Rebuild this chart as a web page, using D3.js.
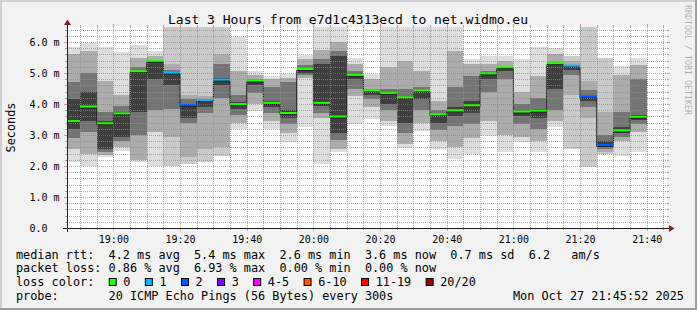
<!DOCTYPE html>
<html><head><meta charset="utf-8">
<script src="https://cdn.jsdelivr.net/npm/d3@7"></script>
<style>
html,body{margin:0;padding:0;background:#f2f2f2;}
svg{display:block;}
text{font-family:"DejaVu Sans Mono",monospace;}
</style></head><body>
<svg id="c" width="697" height="310"></svg>
<script>
// ---------------- data ----------------
const titleText = "Last 3 Hours from e7d1c4313ecd to net.widmo.eu";
const startTime = "2025-10-27T18:46:05";
const endTime   = "2025-10-27T21:46:05";
const firstSlotEnd = "2025-10-27T18:50:00";
const stepMinutes = 5;

// median RTT per 5-minute slot (ms)
const median = [3.40,3.87,3.33,3.65,5.01,5.35,4.97,3.92,4.08,4.74,3.95,4.71,3.99,3.66,5.08,3.99,3.55,4.89,4.39,4.31,4.17,4.39,3.62,3.75,3.91,4.94,5.14,3.71,3.74,5.27,5.19,4.19,2.63,3.10,3.54];
// lost pings per slot (of 20)
const loss   = [0,0,0,0,0,0,1,2,1,1,0,0,0,0,0,0,0,0,0,0,0,0,0,0,0,0,0,0,0,0,1,2,2,0,0];
// sorted ping ranks (ms): p1 = fastest ... p20 = slowest
const p1  = [2.12,2.01,2.28,2.49,2.12,2.01,2.01,2.06,2.12,2.33,3.19,3.78,3.20,2.76,3.25,2.06,2.44,3.35,3.52,3.30,2.58,3.14,2.55,2.22,2.39,2.98,2.44,2.76,2.44,3.25,2.55,1.96,2.39,2.33,2.44];
const p3  = [2.55,2.40,2.35,2.60,2.20,3.10,2.95,2.30,2.55,2.60,3.40,4.00,3.45,3.05,4.85,3.55,2.55,4.25,3.90,3.45,2.70,3.40,2.80,2.60,2.90,3.45,3.00,2.95,2.80,3.45,4.30,3.55,2.45,2.80,3.10];
const p6  = [2.90,3.10,2.45,2.80,3.00,3.80,3.85,3.40,3.70,4.20,3.65,4.35,3.70,3.35,4.95,3.70,2.85,4.50,4.15,3.80,3.05,3.80,3.15,3.30,3.35,4.40,4.80,3.35,3.20,3.80,4.95,3.90,2.55,2.95,3.35];
const p9  = [3.20,3.45,2.55,2.95,3.75,4.80,4.60,3.55,3.90,4.60,3.85,4.60,3.90,3.55,5.00,3.95,3.05,4.80,4.30,4.00,3.40,4.15,3.40,3.60,3.70,4.80,5.05,3.60,3.55,4.50,5.10,4.10,2.60,3.05,3.50];
const p12 = [4.16,4.38,3.45,3.75,5.05,5.38,5.00,3.98,4.10,4.85,4.05,4.74,4.10,3.80,5.12,5.30,5.55,4.93,4.42,4.35,4.25,4.45,3.66,3.90,4.10,4.97,5.16,3.80,3.85,5.30,5.21,4.25,2.80,3.25,3.65];
const p15 = [4.70,4.99,3.75,3.95,5.20,5.42,5.10,4.15,4.15,5.30,4.30,4.80,4.55,4.70,5.25,5.45,5.70,5.05,4.50,4.50,4.50,4.55,3.80,4.55,4.90,5.05,5.20,4.00,4.20,5.35,5.25,4.45,3.00,3.75,4.80];
const p18 = [5.60,5.72,4.75,4.30,5.50,5.55,5.30,4.30,4.25,5.60,5.05,4.92,4.80,4.85,5.45,5.75,6.00,5.30,4.80,5.20,5.40,5.05,4.10,5.70,5.30,5.30,5.40,4.40,4.90,5.60,5.40,4.75,3.75,4.95,5.25];
const p20 = [5.85,5.97,5.83,5.67,5.91,5.72,6.60,6.60,6.60,6.60,6.17,5.05,4.91,4.97,5.59,6.60,6.60,5.50,4.97,6.60,6.60,6.60,6.60,6.60,5.45,5.56,5.56,5.45,5.85,5.81,5.56,6.60,5.50,5.24,5.50];

const yTickValues = [0,1,2,3,4,5,6];
const yTickLabels = ["0.0","1.0 m","2.0 m","3.0 m","4.0 m","5.0 m","6.0 m"];
const xTickLabels = ["19:00","19:20","19:40","20:00","20:20","20:40","21:00","21:20","21:40"];

const legendRtt  = "median rtt:  4.2 ms avg  5.4 ms max  2.6 ms min  3.6 ms now  0.7 ms sd  6.2   am/s";
const legendLoss = "packet loss: 0.86 % avg  6.93 % max  0.00 % min  0.00 % now";
const lossLabels = ["0","1","2","3","4-5","6-10","11-19","20/20"];
const lossColors = ["#26ff00","#00b8ff","#0059ff","#7e00ff","#ff00ff","#ff5500","#ff0000","#a10000"];
const probeText  = "probe:       20 ICMP Echo Pings (56 Bytes) every 300s";
const dateText   = "Mon Oct 27 21:45:52 2025";

// ---------------- drawing ----------------
const svg = d3.select("#c");
const parse = d3.timeParse("%Y-%m-%dT%H:%M:%S");
const t0 = parse(startTime), t1 = parse(endTime);
const X0 = 67, X1 = 667, Y0 = 228, Y1 = 27;
const x = d3.scaleTime().domain([t0, t1]).range([X0, X1]);
const y = d3.scaleLinear().domain([0, 6.5]).range([Y0, 26.5]);
const CW = 7.12; // legend char advance

// background + frame
svg.append("rect").attr("width",697).attr("height",310).attr("fill","#f2f2f2");
svg.append("rect").attr("x",0).attr("y",0).attr("width",697).attr("height",2).attr("fill","#cfcfcf");
svg.append("rect").attr("x",0).attr("y",0).attr("width",2).attr("height",310).attr("fill","#cfcfcf");
svg.append("rect").attr("x",0).attr("y",308).attr("width",697).attr("height",2).attr("fill","#9e9e9e");
svg.append("rect").attr("x",695).attr("y",0).attr("width",2).attr("height",310).attr("fill","#9e9e9e");

// canvas
svg.append("rect").attr("x",X0).attr("y",Y1).attr("width",X1-X0).attr("height",Y0-Y1).attr("fill","#ffffff");

svg.append("defs").append("clipPath").attr("id","pc")
  .append("rect").attr("x",X0).attr("y",Y1).attr("width",X1-X0).attr("height",Y0-Y1);

const firstEnd = parse(firstSlotEnd);
const slots = median.map((m,i) => {
  const e = d3.timeMinute.offset(firstEnd, i*stepMinutes);
  const s = d3.timeMinute.offset(e, -stepMinutes);
  return {i, s: s < t0 ? t0 : s, e, m, loss: loss[i]};
});

const plot = svg.append("g").attr("clip-path","url(#pc)");
const bands = [
  {lo:p1, hi:p20, col:null},
  {lo:p3, hi:p18, col:"#acacac"},
  {lo:p6, hi:p15, col:"#747474"},
  {lo:p9, hi:p12, col:"#3f3f3f"}
];
bands.forEach(b => {
  plot.append("g").selectAll("rect").data(slots).join("rect")
    .attr("x", d => x(d.s))
    .attr("width", d => x(d.e) - x(d.s))
    .attr("y", d => y(b.hi[d.i]))
    .attr("height", d => y(b.lo[d.i]) - y(b.hi[d.i]))
    .attr("fill", d => b.col ? b.col : (d.loss > 0 ? "#cacaca" : "#dddddd"))
    .attr("shape-rendering","crispEdges");
});

// grid
const grid = svg.append("g");
const minorY = d3.range(1, 33).map(k => k/5).filter(v => Math.abs(v - Math.round(v)) > 1e-6);
const majorY = yTickValues.filter(v => v > 0);
const vTimes = d3.timeMinute.every(5).range(d3.timeMinute.offset(t0, 1), t1);
const isMajorT = t => t.getMinutes() % 20 === 0;
const GRID = "rgba(143,143,143,0.75)", MGRID = "rgba(222,79,79,0.6)";
minorY.forEach(v => {
  const yy = Math.round(y(v)) + 0.5;
  grid.append("line").attr("x1",X0).attr("x2",X1).attr("y1",yy).attr("y2",yy)
    .attr("stroke",GRID).attr("stroke-dasharray","1,1");
  grid.append("line").attr("x1",X0-2).attr("x2",X0).attr("y1",yy).attr("y2",yy).attr("stroke",GRID);
  grid.append("line").attr("x1",X1).attr("x2",X1+2).attr("y1",yy).attr("y2",yy).attr("stroke",GRID);
});
vTimes.filter(t => !isMajorT(t)).forEach(t => {
  const xx = Math.round(x(t)) + 0.5;
  grid.append("line").attr("x1",xx).attr("x2",xx).attr("y1",Y1).attr("y2",Y0)
    .attr("stroke",GRID).attr("stroke-dasharray","1,1");
  grid.append("line").attr("x1",xx).attr("x2",xx).attr("y1",Y0).attr("y2",Y0+2).attr("stroke",GRID);
  grid.append("line").attr("x1",xx).attr("x2",xx).attr("y1",Y1-2).attr("y2",Y1).attr("stroke",GRID);
});
majorY.forEach(v => {
  const yy = Math.round(y(v)) + 0.5;
  grid.append("line").attr("x1",X0).attr("x2",X1).attr("y1",yy).attr("y2",yy)
    .attr("stroke",MGRID).attr("stroke-dasharray","1,1");
  grid.append("line").attr("x1",X0-3).attr("x2",X0).attr("y1",yy).attr("y2",yy).attr("stroke",MGRID);
  grid.append("line").attr("x1",X1).attr("x2",X1+3).attr("y1",yy).attr("y2",yy).attr("stroke",MGRID);
});
vTimes.filter(isMajorT).forEach(t => {
  const xx = Math.round(x(t)) + 0.5;
  grid.append("line").attr("x1",xx).attr("x2",xx).attr("y1",Y1).attr("y2",Y0)
    .attr("stroke",MGRID).attr("stroke-dasharray","1,1");
  grid.append("line").attr("x1",xx).attr("x2",xx).attr("y1",Y0).attr("y2",Y0+3).attr("stroke",MGRID);
  grid.append("line").attr("x1",xx).attr("x2",xx).attr("y1",Y1-3).attr("y2",Y1).attr("stroke",MGRID);
});

// median step line + loss-coloured median bars
const stepPts = [];
slots.forEach(d => { stepPts.push([x(d.s), y(d.m)]); stepPts.push([x(d.e), y(d.m)]); });
plot.append("path").attr("d", d3.line()(stepPts)).attr("fill","none")
  .attr("stroke","#202020").attr("stroke-width",1);
const lossIndex = n => n === 0 ? 0 : n === 1 ? 1 : n === 2 ? 2 : n === 3 ? 3 : n <= 5 ? 4 : n <= 10 ? 5 : n <= 19 ? 6 : 7;
plot.append("g").selectAll("line").data(slots).join("line")
  .attr("x1", d => x(d.s)).attr("x2", d => x(d.e))
  .attr("y1", d => y(d.m) - 1.5).attr("y2", d => y(d.m) - 1.5)
  .attr("stroke", d => lossColors[lossIndex(d.loss)]).attr("stroke-width", 2);

// axes
const AX = "#1f1f1f", ARROW = "#801f1f";
svg.append("line").attr("x1",X0-4).attr("x2",X1+4).attr("y1",Y0+0.5).attr("y2",Y0+0.5).attr("stroke",AX);
svg.append("line").attr("x1",X0+0.5).attr("x2",X0+0.5).attr("y1",Y0+4).attr("y2",Y1-4).attr("stroke",AX);
svg.append("path").attr("d",`M${X1+2},${Y0-3}L${X1+2},${Y0+4}L${X1+7.5},${Y0+0.5}Z`).attr("fill",ARROW);
svg.append("path").attr("d",`M${X0-3},${Y1-2}L${X0+4},${Y1-2}L${X0+0.5},${Y1-7.5}Z`).attr("fill",ARROW);

// y labels
svg.append("g").selectAll("text").data(yTickValues).join("text")
  .attr("x", 29.5).attr("y", v => y(v)).attr("dy","0.36em")
  .attr("font-size","10px").attr("fill","#000")
  .text((v,i) => yTickLabels[i]);

// x labels
const xTickTimes = xTickLabels.map(s => parse("2025-10-27T" + s + ":00"));
svg.append("g").selectAll("text").data(xTickTimes).join("text")
  .attr("x", t => x(t) + 0.5).attr("y", 242.5).attr("text-anchor","middle")
  .attr("font-size","10px").attr("fill","#000")
  .text((t,i) => xTickLabels[i]);

// title
svg.append("text").attr("x",348).attr("y",24).attr("text-anchor","middle")
  .attr("font-size","13px").attr("fill","#000").text(titleText);

// y axis title
svg.append("text").attr("transform","translate(15,127.5) rotate(-90)")
  .attr("text-anchor","middle").attr("font-size","11.83px").attr("fill","#000").text("Seconds");

// watermark
svg.append("text").attr("transform","translate(685,5) rotate(90)")
  .attr("font-size","8.3px").attr("fill","rgba(0,0,0,0.3)").text("RRDTOOL / TOBI OETIKER");

// legend
function legendLine(str, x0, yb) {
  svg.append("text").attr("x", x0).attr("y", yb)
    .attr("xml:space","preserve").style("white-space","pre")
    .attr("font-size","11.83px").attr("fill","#000")
    .attr("textLength", str.length * CW).attr("lengthAdjust","spacing")
    .text(str);
}
legendLine(legendRtt, 16, 258.5);
legendLine(legendLoss, 16, 272.3);
legendLine("loss color:", 16, 286);
let cursor = 16 + 11 * CW;
lossLabels.forEach((lab, i) => {
  const bx = cursor + 14.4;
  svg.append("rect").attr("x", bx + 0.5).attr("y", 278.5).attr("width", 7).attr("height", 7)
    .attr("fill", lossColors[i]).attr("stroke","#000").attr("stroke-width",1);
  const lx = bx + 14.6;
  legendLine(lab, lx, 286);
  cursor = lx + lab.length * CW;
});
legendLine(probeText, 16, 299.8);
legendLine(dateText, 513, 299.8);
</script>
</body></html>
